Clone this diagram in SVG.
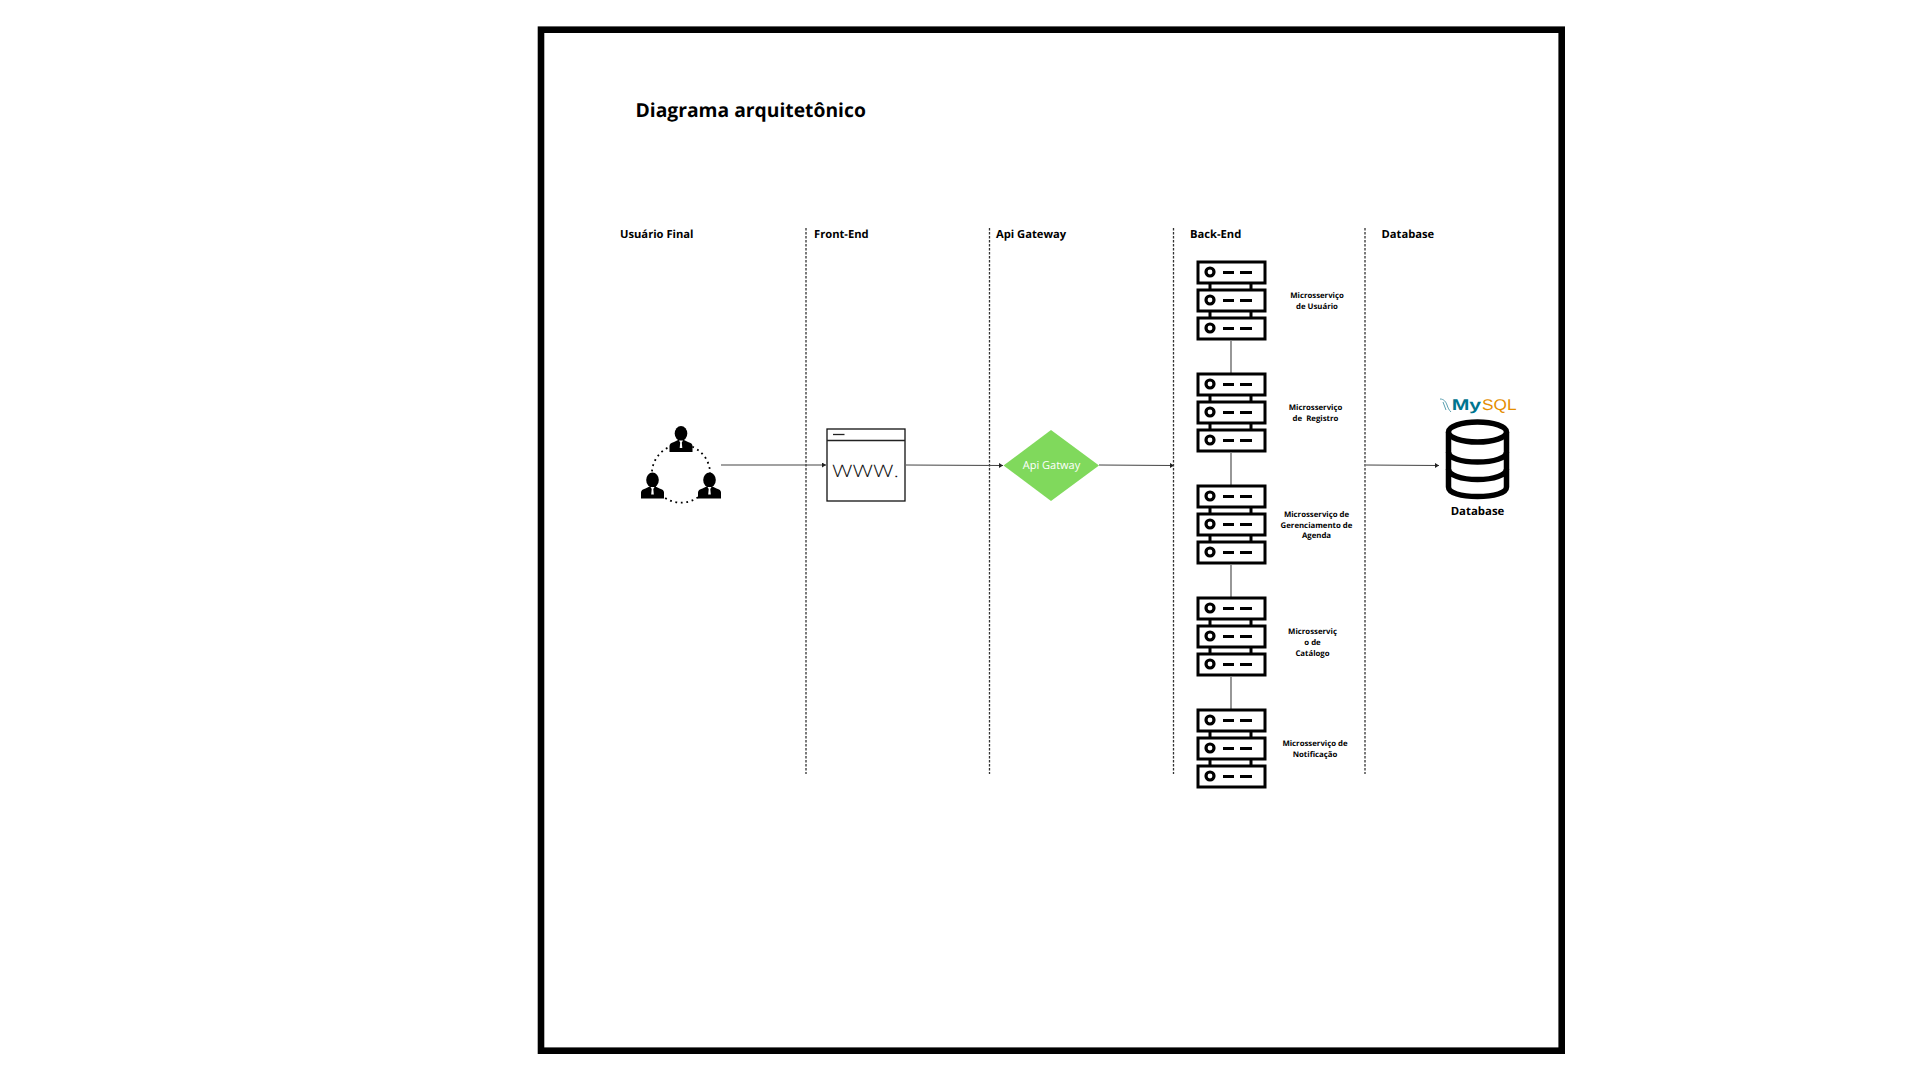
<svg xmlns="http://www.w3.org/2000/svg" xmlns:xlink="http://www.w3.org/1999/xlink" width="1920" height="1080" viewBox="0 0 1920 1080">
<style>
text{font-family:"Open Sans","Liberation Sans",sans-serif;fill:#000;text-rendering:geometricPrecision}
.h{font-size:11.200px;font-weight:700}
.m{font-size:7.800px;font-weight:700;text-anchor:middle}
.div{stroke:#333;stroke-width:1.300;stroke-dasharray:2.500 1.500;fill:none}
.conn{stroke:#444;stroke-width:1.100;fill:none}
.r{fill:#fff;stroke:#000;stroke-width:3}
.srv{stroke:#000;stroke-width:3;fill:none}
</style>
<defs>
<marker id="a" markerUnits="userSpaceOnUse" markerWidth="6" markerHeight="6" refX="4" refY="2.500" orient="auto"><path d="M0 0L4 2.500L0 5z" fill="#222"/></marker>
<g id="unit"><rect class="r" x="1198" y="0" width="67" height="21"/><circle cx="1210" cy="10" r="4" fill="#fff" stroke="#000" stroke-width="3.200"/><path class="srv" d="M1223 10.500h11M1240 10.500h12"/></g>
<g id="stack"><path class="srv" d="M1210 21v7M1251 21v7M1210 49v7M1251 49v7"/><use xlink:href="#unit" y="0"/><use xlink:href="#unit" y="28"/><use xlink:href="#unit" y="56"/></g>
<g id="person"><ellipse cx="0" cy="-6.500" rx="6.300" ry="7.500" fill="#000"/><path d="M-11.500 12V6Q-11.500 3 -7 2L-3 0H3L7 2Q11.500 3 11.500 6V12Z" fill="#000"/><path d="M-2 0.500L-0.800 2.500L-1.300 8H1.300L0.800 2.500L2 0.500Z" fill="#fff"/></g>
</defs>
<rect width="1920" height="1080" fill="#fff"/>
<rect id="frame" x="541" y="29.700" width="1020.700" height="1021" fill="none" stroke="#000" stroke-width="6.600"/>
<text id="title" x="635.500" y="116.500" font-size="19.300" font-weight="700">Diagrama arquitetônico</text>
<g id="lanes">
<path class="div" d="M806 228V774M989.500 228V774M1173.500 228V774M1365 228V774"/>
<text class="h" x="620" y="238">Usuário Final</text>
<text class="h" x="814" y="238">Front-End</text>
<text class="h" x="996" y="238">Api Gateway</text>
<text class="h" x="1190" y="238">Back-End</text>
<text class="h" x="1381.500" y="238">Database</text>
</g>
<g id="connectors">
<path class="conn" marker-end="url(#a)" d="M721 465H826"/>
<path class="conn" marker-end="url(#a)" d="M906 465L1003 465.500"/>
<path class="conn" marker-end="url(#a)" d="M1099 465L1174 465.500"/>
<path class="conn" marker-end="url(#a)" d="M1366 465L1439 465.500"/>
<path class="conn" d="M1231 341V373M1231 453V485M1231 565V597M1231 677V709"/>
</g>
<g id="users">
<circle cx="681" cy="473.600" r="29.100" fill="none" stroke="#000" stroke-width="1.800" stroke-dasharray="1.800 3.700"/>
<use xlink:href="#person" x="681" y="440"/>
<use xlink:href="#person" x="652.500" y="486.500"/>
<use xlink:href="#person" x="709.500" y="486.500"/>
</g>
<g id="front-end">
<rect x="827" y="429" width="78" height="72" fill="#fff" stroke="#111" stroke-width="1.300"/>
<path d="M827 440.500H905" stroke="#222" stroke-width="1.300"/>
<path d="M833 434.500H844.500" stroke="#222" stroke-width="1.300"/>
<text x="832" y="477" font-size="17" textLength="67" lengthAdjust="spacingAndGlyphs" style="fill:#111;font-weight:300">WWW.</text>
</g>
<g id="gateway">
<polygon points="1051,430 1099,465.500 1051,501 1003.500,465.500" fill="#80d95c"/>
<text x="1051.500" y="469" font-size="11" style="fill:#fff" text-anchor="middle">Api Gatway</text>
</g>
<g id="ms-usuario"><use xlink:href="#stack" y="262"/><text class="m" x="1317" y="298">Microsserviço</text><text class="m" x="1317" y="309">de Usuário</text></g>
<g id="ms-registro"><use xlink:href="#stack" y="374"/><text class="m" x="1315.500" y="410">Microsserviço</text><text class="m" x="1315.500" y="421" xml:space="preserve">de  Registro</text></g>
<g id="ms-agenda"><use xlink:href="#stack" y="486"/><text class="m" x="1316.500" y="517">Microsserviço de</text><text class="m" x="1316.500" y="528">Gerenciamento de</text><text class="m" x="1316.500" y="538">Agenda</text></g>
<g id="ms-catalogo"><use xlink:href="#stack" y="598"/><text class="m" x="1312.500" y="634">Microsserviç</text><text class="m" x="1312.500" y="645">o de</text><text class="m" x="1312.500" y="656">Catálogo</text></g>
<g id="ms-notificacao"><use xlink:href="#stack" y="710"/><text class="m" x="1315" y="746">Microsserviço de</text><text class="m" x="1315" y="757">Notificação</text></g>
<g id="database">
<text x="1451.700" y="410" font-size="15.500" font-weight="700" textLength="29.500" lengthAdjust="spacingAndGlyphs" style="fill:#00758f;font-family:'Liberation Sans',sans-serif">My</text>
<text x="1482" y="410" font-size="15.500" textLength="34.500" lengthAdjust="spacingAndGlyphs" style="fill:#e48e00;font-family:'Liberation Sans',sans-serif">SQL</text>
<path d="M1440 399c4 0 6 3 7 6s2 5 4 7M1443 402l3 8" fill="none" stroke="#5a9fb0" stroke-width="1"/>
<path d="M1448.500 432V487C1448.500 493 1461 496.500 1477.500 496.500C1494 496.500 1506.500 493 1506.500 487V432" fill="#fff" stroke="#000" stroke-width="5.500"/>
<path d="M1448.500 452C1448.500 458 1461 462 1477.500 462C1494 462 1506.500 458 1506.500 452M1448.500 469C1448.500 475 1461 479.500 1477.500 479.500C1494 479.500 1506.500 475 1506.500 469" fill="none" stroke="#000" stroke-width="5.500"/>
<ellipse cx="1477.500" cy="432" rx="29" ry="10" fill="#fff" stroke="#000" stroke-width="5.500"/>
<text x="1477.500" y="515" font-size="11.400" font-weight="700" text-anchor="middle">Database</text>
</g>
</svg>
